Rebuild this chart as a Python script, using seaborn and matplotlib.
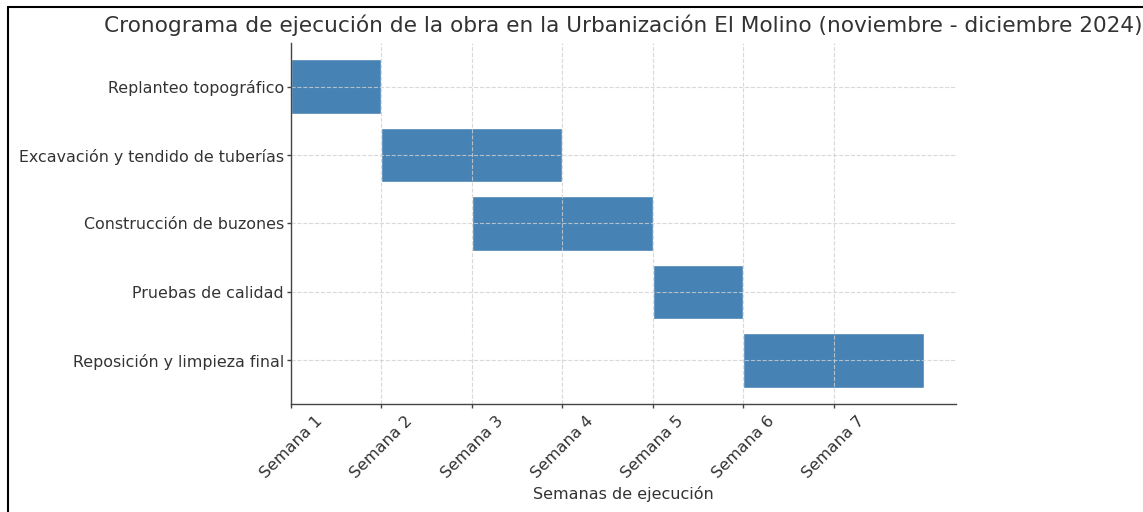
import matplotlib
matplotlib.use("Agg")
import matplotlib.pyplot as plt
from matplotlib.lines import Line2D
import seaborn as sns
import pandas as pd

tasks = ["Replanteo topográfico", "Excavación y tendido de tuberías",
         "Construcción de buzones", "Pruebas de calidad",
         "Reposición y limpieza final"]
start_week = [1, 2, 3, 5, 6]
duration_weeks = [1, 2, 2, 1, 2]
week_ticks = [1, 2, 3, 4, 5, 6, 7]
week_labels = ["Semana 1", "Semana 2", "Semana 3", "Semana 4",
               "Semana 5", "Semana 6", "Semana 7"]

df = pd.DataFrame({"Tarea": tasks, "Inicio": start_week, "Duración": duration_weeks})

sns.set_style("white")
plt.rcParams["font.family"] = ["DejaVu Sans"]
text_color = "#333333"

fig = plt.figure(figsize=(11.43, 5.12), dpi=100)
ax = fig.add_axes([0.2546, 0.211, 0.5818, 0.705])

sns.barplot(data=df, x="Duración", y="Tarea", orient="y", color="#4682B4",
            saturation=1, left=df["Inicio"].values, width=0.8, ax=ax, errorbar=None)

ax.set_xlim(1, 8.35)
ax.set_ylim(4.64, -0.64)
ax.set_xticks(week_ticks)
ax.set_xticklabels(week_labels, rotation=45, ha="center", fontsize=11.5, color=text_color)
ax.tick_params(axis="y", labelsize=11.4, labelcolor=text_color, pad=2)
ax.tick_params(axis="both", length=3, width=1, color="#444444", direction="out", bottom=True, left=True)
ax.set_ylabel("")
ax.set_xlabel("Semanas de ejecución", fontsize=11.5, color=text_color, labelpad=4)
ax.set_title("Cronograma de ejecución de la obra en la Urbanización El Molino (noviembre - diciembre 2024)",
             fontsize=15.6, color=text_color, pad=8)

ax.set_axisbelow(False)
ax.grid(True, axis="both", linestyle="--", color="#d0d0d0", linewidth=0.8, alpha=0.8)
sns.despine(ax=ax)
for s in ["left", "bottom"]:
    ax.spines[s].set_color("#444444")
    ax.spines[s].set_linewidth(1.0)
    ax.spines[s].set_zorder(4)

fig.add_artist(Line2D([0.007, 0.007], [0, 0.986], color="black", linewidth=1.5, transform=fig.transFigure))
fig.add_artist(Line2D([0.007, 1.0], [0.986, 0.986], color="black", linewidth=1.5, transform=fig.transFigure))

fig.savefig("out.png", dpi=100)
